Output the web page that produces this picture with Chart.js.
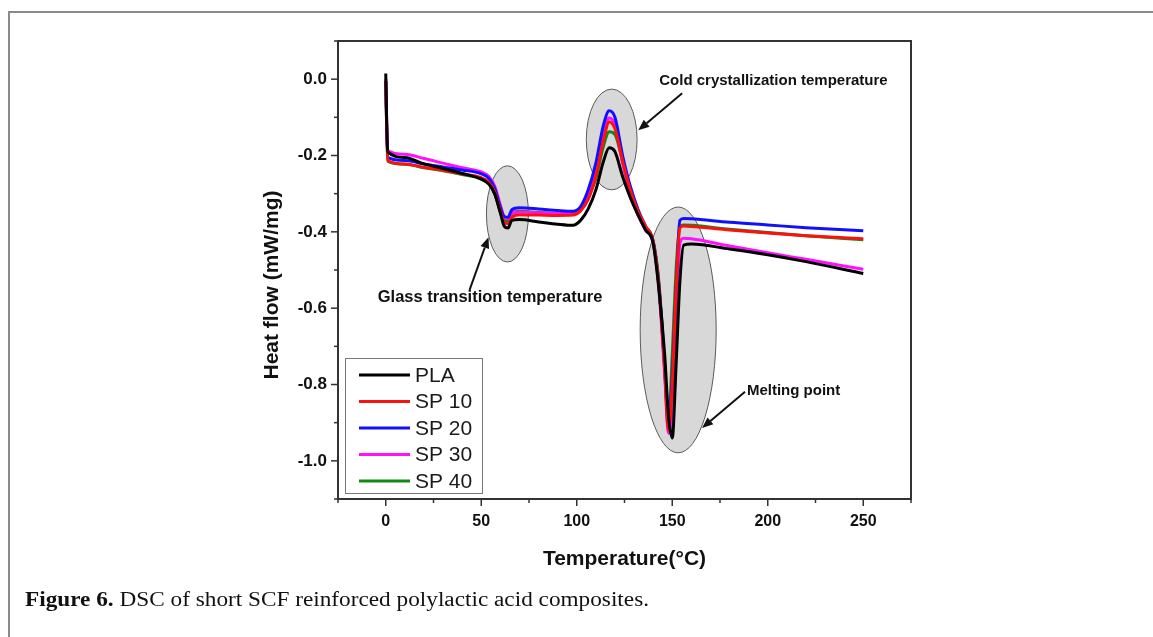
<!DOCTYPE html>
<html><head><meta charset="utf-8">
<script src="https://cdn.jsdelivr.net/npm/chart.js@4.4.0/dist/chart.umd.min.js"></script>
<style>
html,body{margin:0;padding:0;background:#fff;}
#wrap{position:relative;width:1153px;height:637px;overflow:hidden;background:#fff;}
#c{position:absolute;left:0;top:0;}
#frame{position:absolute;left:8px;top:11px;width:1145px;height:626px;border-top:2px solid #8a8a8a;border-left:2px solid #8a8a8a;}
#cap{position:absolute;left:25px;top:588px;font-family:"Liberation Serif","Times New Roman",serif;font-size:20px;color:#111;white-space:nowrap;transform-origin:0 50%;}
</style></head>
<body><div id="wrap"><div id="frame"></div><canvas id="c" width="1153" height="637"></canvas><div id="cap"><b>Figure 6.</b> DSC of short SCF reinforced polylactic acid composites.</div></div>
<script>
// ---- data ----
const temperature = [0, 1, 10, 20, 30, 40, 50, 54, 57, 60, 62, 64, 66, 70, 80, 90, 98, 102, 106, 110, 114, 117, 120, 124, 128, 132, 136, 140, 143, 146, 148, 150, 152, 154, 156, 160, 180, 200, 220, 250];
const seriesNames = ['PLA', 'SP 10', 'SP 20', 'SP 30', 'SP 40'];
const pla  = [0.015, -0.19, -0.205, -0.222, -0.234, -0.247, -0.262, -0.275, -0.30, -0.35, -0.385, -0.39, -0.37, -0.368, -0.374, -0.38, -0.383, -0.37, -0.34, -0.29, -0.215, -0.18, -0.19, -0.255, -0.31, -0.355, -0.395, -0.43, -0.55, -0.72, -0.88, -0.94, -0.75, -0.53, -0.435, -0.432, -0.445, -0.46, -0.478, -0.509];
const sp10 = [-0.005, -0.213, -0.222, -0.231, -0.239, -0.248, -0.258, -0.27, -0.295, -0.345, -0.375, -0.378, -0.362, -0.355, -0.356, -0.357, -0.356, -0.345, -0.315, -0.255, -0.16, -0.112, -0.13, -0.215, -0.29, -0.345, -0.385, -0.425, -0.54, -0.76, -0.92, -0.80, -0.55, -0.39, -0.385, -0.386, -0.395, -0.403, -0.41, -0.418];
const sp20 = [-0.005, -0.205, -0.213, -0.222, -0.23, -0.238, -0.248, -0.26, -0.285, -0.335, -0.36, -0.362, -0.342, -0.337, -0.34, -0.344, -0.346, -0.334, -0.29, -0.22, -0.12, -0.083, -0.10, -0.20, -0.28, -0.34, -0.385, -0.425, -0.54, -0.75, -0.90, -0.78, -0.55, -0.37, -0.365, -0.366, -0.375, -0.382, -0.389, -0.397];
const sp30 = [0.0, -0.187, -0.197, -0.208, -0.22, -0.232, -0.243, -0.255, -0.28, -0.33, -0.36, -0.365, -0.35, -0.348, -0.35, -0.352, -0.352, -0.342, -0.305, -0.24, -0.14, -0.102, -0.12, -0.22, -0.30, -0.355, -0.395, -0.43, -0.55, -0.77, -0.928, -0.86, -0.62, -0.43, -0.417, -0.418, -0.437, -0.455, -0.472, -0.498];
const sp40 = [-0.008, -0.215, -0.223, -0.232, -0.24, -0.25, -0.262, -0.275, -0.30, -0.348, -0.37, -0.372, -0.352, -0.346, -0.349, -0.352, -0.352, -0.34, -0.31, -0.26, -0.175, -0.138, -0.145, -0.215, -0.29, -0.345, -0.39, -0.425, -0.53, -0.75, -0.905, -0.72, -0.50, -0.385, -0.382, -0.383, -0.393, -0.402, -0.41, -0.421];
const xTickLabels = [0, 50, 100, 150, 200, 250];
const yTickLabels = [0.0, -0.2, -0.4, -0.6, -0.8, -1.0];

// ---- styling ----
const colors = ['#000000', '#ff1010', '#1010ff', '#ff10ff', '#108a10'];
const series = [pla, sp10, sp20, sp30, sp40];
const SANS = '"Liberation Sans", Arial, sans-serif';

// annotation geometry (data units)
const ellipses = [
  {x: 63.7, y: -0.353, rx: 11, ry: 0.126},
  {x: 118.3, y: -0.158, rx: 13.3, ry: 0.132},
  {x: 153.1, y: -0.657, rx: 19.9, ry: 0.322}
];
const notes = [
  {text: 'Glass transition temperature', size: 16.5, x: -4.2, y: -0.571, ax0: 43.9, ay0: -0.552, ax1: 53.8, ay1: -0.414},
  {text: 'Cold crystallization temperature', size: 15, x: 143.2, y: -0.005, ax0: 155.2, ay0: -0.037, ax1: 132.2, ay1: -0.134},
  {text: 'Melting point', size: 15, x: 189.1, y: -0.817, ax0: 188.1, ay0: -0.819, ax1: 165.6, ay1: -0.914}
];

function arrow(ctx, x0, y0, x1, y1) {
  const ang = Math.atan2(y1 - y0, x1 - x0);
  const L = 11, W = 4.5;
  const bx = x1 - L * Math.cos(ang), by = y1 - L * Math.sin(ang);
  ctx.beginPath(); ctx.moveTo(x0, y0); ctx.lineTo(bx, by);
  ctx.lineWidth = 2; ctx.strokeStyle = '#111'; ctx.stroke();
  ctx.beginPath(); ctx.moveTo(x1, y1);
  ctx.lineTo(bx + W * Math.sin(ang), by - W * Math.cos(ang));
  ctx.lineTo(bx - W * Math.sin(ang), by + W * Math.cos(ang));
  ctx.closePath(); ctx.fillStyle = '#111'; ctx.fill();
}

const deco = {
  id: 'deco',
  beforeDatasetsDraw(chart) {
    const {ctx, scales: {x, y}} = chart;
    ctx.save();
    for (const e of ellipses) {
      const cx = x.getPixelForValue(e.x), cy = y.getPixelForValue(e.y);
      const rx = Math.abs(x.getPixelForValue(e.x + e.rx) - cx);
      const ry = Math.abs(y.getPixelForValue(e.y + e.ry) - cy);
      ctx.beginPath(); ctx.ellipse(cx, cy, rx, ry, 0, 0, Math.PI * 2);
      ctx.fillStyle = '#d8d8d8'; ctx.fill();
      ctx.lineWidth = 1; ctx.strokeStyle = '#5a5a5a'; ctx.stroke();
    }
    ctx.restore();
  },
  afterDatasetsDraw(chart) {
    const {ctx, chartArea: a, scales: {x, y}} = chart;
    ctx.save();
    // frame
    ctx.lineWidth = 2; ctx.strokeStyle = '#333';
    ctx.strokeRect(a.left, a.top, a.right - a.left, a.bottom - a.top);
    // ticks
    ctx.lineWidth = 1.5;
    for (const t of x.ticks) {
      const px = x.getPixelForValue(t.value);
      const major = xTickLabels.includes(Math.round(t.value));
      ctx.beginPath(); ctx.moveTo(px, a.bottom); ctx.lineTo(px, a.bottom + (major ? 7 : 4)); ctx.stroke();
    }
    for (const t of y.ticks) {
      const py = y.getPixelForValue(t.value);
      const major = Math.abs(Math.round(t.value * 10)) % 2 === 0;
      ctx.beginPath(); ctx.moveTo(a.left, py); ctx.lineTo(a.left - (major ? 7 : 4), py); ctx.stroke();
    }
    // annotations
    ctx.fillStyle = '#111';
    ctx.textAlign = 'left'; ctx.textBaseline = 'middle';
    for (const n of notes) {
      ctx.font = 'bold ' + n.size + 'px ' + SANS; ctx.fillStyle = '#111';
      ctx.fillText(n.text, x.getPixelForValue(n.x), y.getPixelForValue(n.y));
      arrow(ctx, x.getPixelForValue(n.ax0), y.getPixelForValue(n.ay0), x.getPixelForValue(n.ax1), y.getPixelForValue(n.ay1));
    }
    // legend
    const lx = a.left + 7, ly = 358, lw = 137, lh = 135;
    ctx.fillStyle = '#fff'; ctx.fillRect(lx, ly, lw, lh);
    ctx.lineWidth = 1; ctx.strokeStyle = '#777'; ctx.strokeRect(lx + 0.5, ly + 0.5, lw, lh);
    ctx.font = '21px ' + SANS; ctx.textBaseline = 'middle';
    chart.data.datasets.forEach((ds, i) => {
      const yy = ly + 17 + i * 26.5;
      ctx.beginPath(); ctx.moveTo(lx + 14, yy); ctx.lineTo(lx + 65, yy);
      ctx.lineWidth = 3; ctx.strokeStyle = ds.borderColor; ctx.stroke();
      ctx.fillStyle = '#1a1a1a'; ctx.fillText(ds.label, lx + 70, yy + 1);
    });
    // y title
    ctx.save();
    ctx.translate(272, 285); ctx.rotate(-Math.PI / 2);
    ctx.font = 'bold 21px ' + SANS; ctx.fillStyle = '#111'; ctx.textAlign = 'center';
    ctx.fillText('Heat flow (mW/mg)', 0, 0);
    ctx.restore();
    ctx.restore();
  }
};

new Chart(document.getElementById('c'), {
  type: 'line',
  data: {
    datasets: series.map((vals, i) => ({
      label: seriesNames[i],
      data: temperature.map((t, j) => ({x: t, y: vals[j]})),
      borderColor: colors[i],
      borderWidth: 3,
      pointRadius: 0,
      cubicInterpolationMode: 'monotone',
      fill: false
    }))
  },
  options: {
    responsive: false,
    devicePixelRatio: 1,
    animation: false,
    layout: {padding: {left: 250, top: 41, right: 242, bottom: 0}},
    plugins: {legend: {display: false}, tooltip: {enabled: false}},
    scales: {
      x: {
        type: 'linear', min: -25, max: 275,
        afterFit: s => { s.height = 138; },
        ticks: {
          stepSize: 25, padding: 6, color: '#111',
          font: {family: SANS, size: 16, weight: 'bold'},
          callback: v => xTickLabels.includes(v) ? String(v) : ''
        },
        grid: {display: true, drawOnChartArea: false, drawTicks: true, tickLength: 7, color: 'rgba(0,0,0,0)'},
        border: {display: false},
        title: {display: true, text: 'Temperature(°C)', color: '#111',
          font: {family: SANS, size: 21, weight: 'bold'}, padding: {top: 0, bottom: 65}}
      },
      y: {
        type: 'linear', min: -1.1, max: 0.1,
        afterFit: s => { s.width = 88; },
        ticks: {
          stepSize: 0.1, padding: 4, color: '#111',
          font: {family: SANS, size: 17, weight: 'bold'},
          callback: v => {
            const r = Math.round(v * 10);
            return (r % 2 === 0 && yTickLabels.some(l => Math.abs(l - v) < 1e-6)) ? (r / 10).toFixed(1) : '';
          }
        },
        grid: {display: true, drawOnChartArea: false, drawTicks: true, tickLength: 7, color: 'rgba(0,0,0,0)'},
        border: {display: false}
      }
    }
  },
  plugins: [deco]
});

// stretch caption to the reference width
const cap = document.getElementById('cap');
const w = cap.getBoundingClientRect().width;
cap.style.transform = 'scaleX(' + (624 / w) + ')';
</script>
</body></html>
